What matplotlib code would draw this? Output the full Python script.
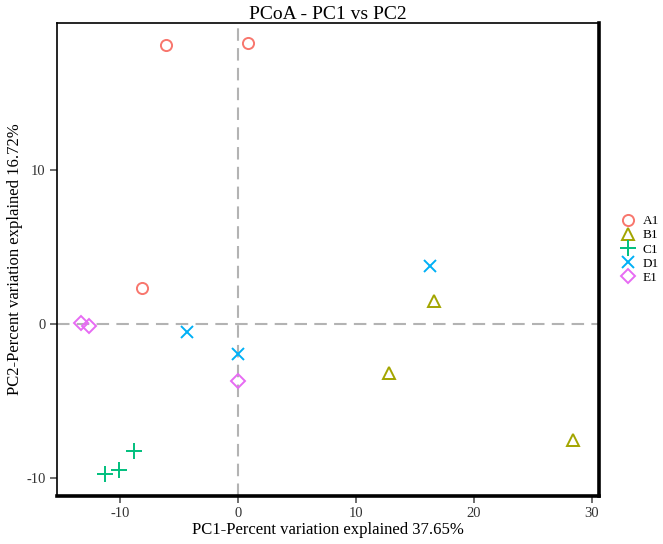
import matplotlib
matplotlib.use("Agg")
import matplotlib.pyplot as plt

plt.rcParams['font.family'] = ['Liberation Serif', 'DejaVu Serif']
plt.rcParams['axes.unicode_minus'] = False

groups = ["A1", "B1", "C1", "D1", "E1"]
colors = ["#F8766D", "#A3A500", "#00BF7D", "#00B0F6", "#E76BF3"]
markers = ["o", "^", "+", "x", "D"]

pc1 = {
    "A1": [-6.1, 0.85, -8.1],
    "B1": [16.6, 12.8, 28.4],
    "C1": [-8.84, -10.1, -11.3],
    "D1": [16.3, -4.35, 0.03],
    "E1": [-13.3, -12.6, 0.0],
}
pc2 = {
    "A1": [18.1, 18.27, 2.36],
    "B1": [1.5, -3.16, -7.5],
    "C1": [-8.25, -9.5, -9.76],
    "D1": [3.8, -0.52, -1.95],
    "E1": [0.05, -0.13, -3.7],
}

xticks = [-10, 0, 10, 20, 30]
yticks = [-10, 0, 10]

fig = plt.figure(figsize=(6.63, 5.44), dpi=100)
ax = fig.add_axes([0.0855, 0.0882, 0.818, 0.8698])

ax.axvline(0, color="#b3b3b3", lw=1.5, ls=(0, (6, 3.5)), zorder=1)
ax.axhline(0, color="#b3b3b3", lw=1.5, ls=(0, (6, 3.5)), zorder=1)

sizes = {"o": 8, "^": 9, "+": 11, "x": 8, "D": 7}
for g, c, m in zip(groups, colors, markers):
    ax.plot(pc1[g], pc2[g], ls="none", marker=m, ms=sizes[m],
            mfc="none", mec=c, mew=1.4, label=g, zorder=3)

ax.set_xlim(-15.36, 30.6)
ax.set_ylim(-11.17, 19.56)
ax.set_xticks(xticks)
ax.set_yticks(yticks)
ax.tick_params(direction="out", length=5, width=1.2, color="#555555",
               labelsize=10.5, labelcolor="#333333", pad=3)

for s in ["left", "top"]:
    ax.spines[s].set_linewidth(1.2)
for s in ["right", "bottom"]:
    ax.spines[s].set_linewidth(2.6)
for s in ax.spines.values():
    s.set_color("black")

ax.set_title("PCoA - PC1 vs PC2", fontsize=14, pad=3)
ax.set_xlabel("PC1-Percent variation explained 37.65%", fontsize=12, labelpad=1)
ax.set_ylabel("PC2-Percent variation explained 16.72%", fontsize=12, labelpad=2)

leg = ax.legend(loc="upper left", bbox_to_anchor=(1.036, 0.594), frameon=False,
                fontsize=9.5, labelspacing=0.15, handletextpad=0.35,
                handlelength=1.5, borderaxespad=0, borderpad=0)

fig.savefig("out.png", dpi=100)
